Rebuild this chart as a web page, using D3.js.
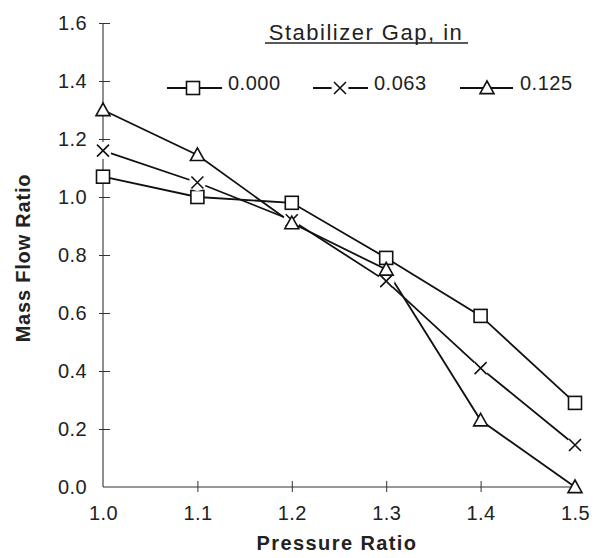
<!DOCTYPE html>
<html>
<head>
<meta charset="utf-8">
<script src="https://cdn.jsdelivr.net/npm/d3@7"></script>
<style>
  body { margin: 0; background: #fff; }
  svg { font-family: "Liberation Sans", Arial, sans-serif; }
</style>
</head>
<body>
<svg></svg>
<script>
const width = 609, height = 558;
const svg = d3.select("svg").attr("width", width).attr("height", height);

// Data
const pressureRatio = [1.0, 1.1, 1.2, 1.3, 1.4, 1.5];
const gap000 = [1.07, 1.00, 0.98, 0.79, 0.59, 0.29];
const gap063 = [1.16, 1.05, 0.92, 0.71, 0.41, 0.145];
const gap125 = [1.30, 1.145, 0.91, 0.75, 0.23, 0.0];
const seriesNames = ["0.000", "0.063", "0.125"];
const markerTypes = ["square", "cross", "triangle"];
const xTicks = [1.0, 1.1, 1.2, 1.3, 1.4, 1.5];
const yTicks = [0, 0.2, 0.4, 0.6, 0.8, 1.0, 1.2, 1.4, 1.6];

const series = [gap000, gap063, gap125].map((vals, i) => ({
    name: seriesNames[i],
    marker: markerTypes[i],
    points: vals.map((v, j) => ({ x: pressureRatio[j], y: v }))
}));

const x = d3.scaleLinear().domain([1.0, 1.5]).range([103, 575]);
const y = d3.scaleLinear().domain([0, 1.6]).range([487, 23]);

// Axes
const xAxis = svg.append("g")
    .attr("transform", `translate(0,${y(0)})`)
    .call(d3.axisBottom(x).tickValues(xTicks).tickFormat(d3.format(".1f")).tickSize(5).tickPadding(14));
const yAxis = svg.append("g")
    .attr("transform", `translate(${x(1.0)},0)`)
    .call(d3.axisLeft(y).tickValues(yTicks).tickFormat(d3.format(".1f")).tickSize(4).tickPadding(12));

[xAxis, yAxis].forEach(g => {
    g.select(".domain").attr("stroke", "#333").attr("stroke-width", 1.1);
    g.selectAll(".tick line").attr("stroke", "#333").attr("stroke-width", 1);
    g.selectAll(".tick text")
        .attr("font-size", 20)
        .attr("letter-spacing", 0.4)
        .attr("fill", "#222")
        .attr("font-family", "Liberation Sans, Arial, sans-serif");
});
// ticks cross the axis on both sides
xAxis.selectAll(".tick line").attr("y1", -6).attr("y2", 5);
xAxis.selectAll(".tick").filter(d => d === 1.0).select("line").remove();
yAxis.selectAll(".tick line").attr("x1", -4).attr("x2", 7);
yAxis.selectAll(".tick").filter(d => d === 0).select("line").remove();
yAxis.select(".domain").attr("d", `M0,${y(1.6)}V${y(0)}`);
xAxis.select(".domain").attr("d", `M${x(1.0)},0H${x(1.5)}`);

// Axis titles
svg.append("text")
    .attr("x", 337).attr("y", 550)
    .attr("text-anchor", "middle")
    .attr("font-size", 20).attr("font-weight", "bold")
    .attr("letter-spacing", 1.4)
    .attr("fill", "#222")
    .text("Pressure Ratio");
svg.append("text")
    .attr("transform", "translate(30,258) rotate(-90)")
    .attr("text-anchor", "middle")
    .attr("font-size", 20).attr("font-weight", "bold")
    .attr("letter-spacing", 0.8)
    .attr("fill", "#222")
    .text("Mass Flow Ratio");

// Marker drawing
function drawMarker(g, type, cx, cy) {
    if (type === "square") {
        g.append("rect")
            .attr("x", cx - 6.5).attr("y", cy - 6.5)
            .attr("width", 13).attr("height", 13)
            .attr("fill", "#fff").attr("stroke", "#111").attr("stroke-width", 1.6);
    } else if (type === "triangle") {
        const s = 7;
        g.append("path")
            .attr("d", `M${cx},${cy - s}L${cx + s},${cy + s * 0.8}L${cx - s},${cy + s * 0.8}Z`)
            .attr("fill", "#fff").attr("stroke", "#111").attr("stroke-width", 1.6);
    } else {
        const s = 6;
        g.append("circle").attr("cx", cx).attr("cy", cy).attr("r", 8.5).attr("fill", "#fff");
        g.append("path")
            .attr("d", `M${cx - s},${cy - s}L${cx + s},${cy + s}M${cx + s},${cy - s}L${cx - s},${cy + s}`)
            .attr("stroke", "#111").attr("stroke-width", 1.6).attr("fill", "none");
    }
}

const line = d3.line().x(d => x(d.x)).y(d => y(d.y));

// Lines first, then markers on top
series.forEach(s => {
    svg.append("path")
        .datum(s.points)
        .attr("d", line)
        .attr("fill", "none")
        .attr("stroke", "#111")
        .attr("stroke-width", 1.8);
});
series.forEach(s => {
    const g = svg.append("g");
    s.points.forEach(p => drawMarker(g, s.marker, x(p.x), y(p.y)));
});

// Legend
svg.append("text")
    .attr("x", 366).attr("y", 40)
    .attr("text-anchor", "middle")
    .attr("font-size", 22)
    .attr("letter-spacing", 1.5)
    .attr("fill", "#222")
    .text("Stabilizer Gap, in");
svg.append("line")
    .attr("x1", 265).attr("x2", 468).attr("y1", 43).attr("y2", 43)
    .attr("stroke", "#222").attr("stroke-width", 1.3);

const legendItems = [
    { x1: 167, x2: 222, cx: 193, tx: 228 },
    { x1: 313, x2: 368, cx: 340, tx: 374 },
    { x1: 460, x2: 513, cx: 487, tx: 520 }
];
const ly = 88;
series.forEach((s, i) => {
    const li = legendItems[i];
    const g = svg.append("g");
    g.append("line")
        .attr("x1", li.x1).attr("x2", li.x2).attr("y1", ly).attr("y2", ly)
        .attr("stroke", "#111").attr("stroke-width", 1.8);
    drawMarker(g, s.marker, li.cx, ly);
    g.append("text")
        .attr("x", li.tx).attr("y", ly + 2)
        .attr("font-size", 20)
        .attr("letter-spacing", 0.5)
        .attr("fill", "#222")
        .text(s.name);
});
</script>
</body>
</html>
